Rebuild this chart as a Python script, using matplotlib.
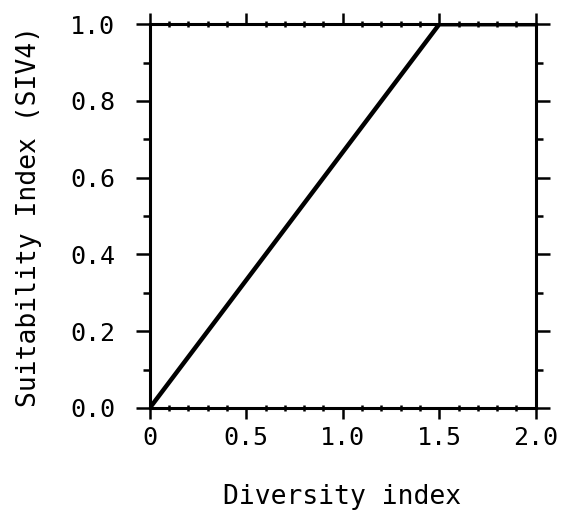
import matplotlib
matplotlib.use('Agg')
import matplotlib.pyplot as plt
from matplotlib.ticker import MultipleLocator, FixedFormatter, FixedLocator

diversity = [0.0, 1.5, 2.0]
siv4 = [0.0, 1.0, 1.0]
x_ticks = [0.0, 0.5, 1.0, 1.5, 2.0]
x_labels = ['0', '0.5', '1.0', '1.5', '2.0']
y_ticks = [0.0, 0.2, 0.4, 0.6, 0.8, 1.0]
y_labels = ['0.0', '0.2', '0.4', '0.6', '0.8', '1.0']

plt.rcParams['font.family'] = ['DejaVu Sans Mono']

fig = plt.figure(figsize=(5.61, 5.11), dpi=100)
ax = fig.add_axes([0.267, 0.2016, 0.688, 0.751])
ax.plot(diversity, siv4, color='black', lw=3.2, solid_capstyle='butt')
ax.set_xlim(0, 2.0)
ax.set_ylim(0, 1.0)

ax.xaxis.set_major_locator(FixedLocator(x_ticks))
ax.xaxis.set_major_formatter(FixedFormatter(x_labels))
ax.yaxis.set_major_locator(FixedLocator(y_ticks))
ax.yaxis.set_major_formatter(FixedFormatter(y_labels))
ax.xaxis.set_minor_locator(MultipleLocator(0.1))
ax.yaxis.set_minor_locator(MultipleLocator(0.1))

for s in ax.spines.values():
    s.set_linewidth(2.2)

ax.tick_params(which='major', direction='out', length=10, width=1.8,
               top=True, right=True, labelsize=18)
ax.tick_params(axis='y', which='major', pad=15)
ax.tick_params(axis='x', which='major', pad=5)
ax.tick_params(axis='x', which='major', top=True, length=8)
ax.tick_params(which='minor', direction='out', length=5, width=1.8,
               top=True, right=True)
ax.tick_params(axis='x', which='minor', top=True, direction='inout', length=5)

ax.set_xlabel('Diversity index', fontsize=19)
ax.set_ylabel('Suitability Index (SIV4)', fontsize=19)
ax.xaxis.set_label_coords(0.497, -0.198)
ax.yaxis.set_label_coords(-0.28, 0.5)

fig.savefig('out.png', dpi=100)
